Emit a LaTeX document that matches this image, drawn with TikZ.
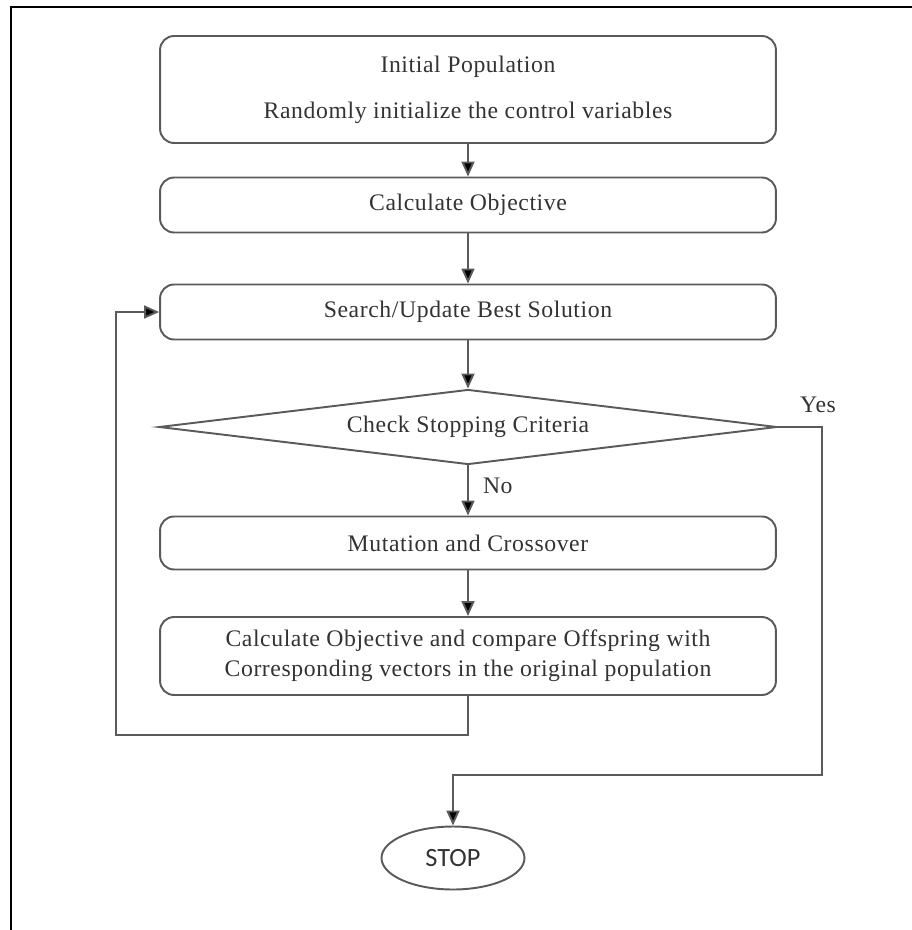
\documentclass[tikz,border=0pt]{standalone}
\usepackage{fontspec}
\setmainfont{Liberation Serif}[LetterSpace=2.5]
\newfontfamily\stopfont{Carlito}
\usetikzlibrary{shapes.geometric,arrows.meta}
\definecolor{edge}{HTML}{5A5A5A}
\definecolor{ink}{HTML}{333333}
\begin{document}
\begin{tikzpicture}[x=0.02cm,y=-0.02cm,
  font=\fontsize{13.5}{16}\selectfont,
  stepbox/.style={draw=edge, line width=1.1pt, rounded corners=0.28cm,
    minimum width=12.32cm, inner sep=0pt, align=center, text=ink},
  decision/.style={draw=edge, line width=1.1pt, shape=diamond, aspect=8.24,
    inner sep=0pt, minimum width=12.36cm, minimum height=1.5cm, text=ink},
  terminal/.style={draw=edge, line width=1.1pt, shape=ellipse, inner sep=0pt,
    minimum width=2.86cm, minimum height=1.26cm, text=ink,
    font=\stopfont\fontsize{15}{17}\selectfont},
  arr/.style={draw=edge, line width=1.1pt, -{Triangle[length=0.3cm,width=0.26cm,fill=black]}},
  lbl/.style={text=ink, inner sep=0pt}]
\useasboundingbox (0,0) rectangle (912,930);
% page frame
\draw[line width=1.6pt, black] (11,930) -- (11,7) -- (912,7);

\node[stepbox, minimum height=2.14cm] (init) at (468,89.5)
  {Initial Population\\[10pt]Randomly initialize the control variables};
\node[stepbox, minimum height=1.1cm] (calc) at (468,205) {Calculate Objective};
\node[stepbox, minimum height=1.1cm] (best) at (468,312) {Search/Update Best Solution};
\node[decision] (check) at (468,427) {Check Stopping Criteria};
\node[stepbox, minimum height=1.06cm] (mut) at (468,543) {Mutation and Crossover};
\node[stepbox, minimum height=1.56cm] (cmp) at (468,656)
  {Calculate Objective and compare Offspring with\\[1pt]Corresponding vectors in the original population};
\node[terminal] (stop) at (453,858) {STOP};

\coordinate (loopcorner) at (116,735);
\coordinate (yescorner) at (822,775);

\draw[arr] (init.south) -- (calc.north);
\draw[arr] (calc.south) -- (best.north);
\draw[arr] (best.south) -- (check.north);
\draw[arr] (check.south) -- node[lbl, right=8pt, pos=0.4] (nolbl) {No} (mut.north);
\draw[arr] (mut.south) -- (cmp.north);
\draw[arr] (cmp.south) |- (loopcorner) |- (best.west);
\draw[arr] (check.east) -| (yescorner) -| (stop.north);
\node[lbl] (yeslbl) at (818,405) {Yes};
\end{tikzpicture}
\end{document}
